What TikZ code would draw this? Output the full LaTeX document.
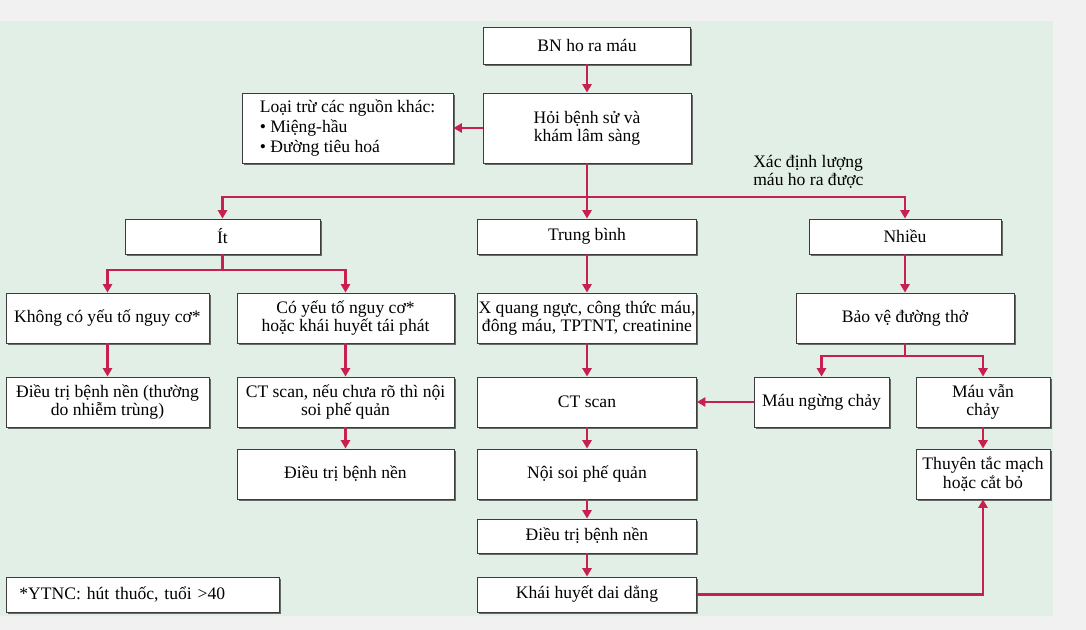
\documentclass[tikz,border=0pt]{standalone}
\usepackage{fontspec}
\setmainfont{Liberation Serif}
\usepackage{xcolor}
\definecolor{hred}{HTML}{C8204E}
\definecolor{hgreen}{HTML}{E2EFE6}
\definecolor{hgray}{HTML}{F1F1F1}
\definecolor{hborder}{HTML}{3C3C3C}
\usepackage{tikz}
\usetikzlibrary{arrows.meta,shadows}
\newcommand{\boxfont}{\fontsize{12.5}{13}\selectfont}

\begin{document}
\begin{tikzpicture}[x=0.025cm,y=-0.025cm,
  box/.style={draw=hborder,fill=white,line width=0.6pt,inner sep=1pt,align=center,font=\boxfont,
    drop shadow={shadow xshift=1.2pt,shadow yshift=-1.2pt,fill=black,opacity=0.55}},
  flow/.style={hred,line width=2pt,-{Triangle[length=6pt,width=6.5pt]}},
  link/.style={hred,line width=2pt}]
% background and margins
\useasboundingbox (0,0) rectangle (1086,630);
\fill[hgray] (0,0) rectangle (1086,630);
\fill[hgreen] (0,21) rectangle (1053,616);
% first steps
\node[box,minimum width=5.175cm,minimum height=0.925cm] (bn) at (587,45.5) {BN ho ra máu};
\node[box,minimum width=5.2cm,minimum height=1.75cm] (hoi) at (587,128) {Hỏi bệnh sử và\\khám lâm sàng};
\node[box,minimum width=5.275cm,minimum height=1.75cm,align=left] (loaitru) at (347.5,128)
  {Loại trừ các nguồn khác:\\[1.5pt]• Miệng-hầu\\[1.5pt]• Đường tiêu hoá};
\node[font=\boxfont,align=left,anchor=west,inner sep=0pt] (qtylabel) at (753,171.5)
  {Xác định lượng\\máu ho ra được};
% amount of blood
\node[box,minimum width=4.875cm,minimum height=0.875cm] (it) at (222.5,236.5) {Ít};
\node[box,minimum width=5.475cm,minimum height=0.875cm] (tb) at (587,236.5) {Trung bình};
\node[box,minimum width=4.8cm,minimum height=0.875cm] (nhieu) at (905,236.5) {Nhiều};
% little
\node[box,minimum width=5.075cm,minimum height=1.25cm] (khong) at (107.5,318) {Không có yếu tố nguy cơ*};
\node[box,minimum width=5.425cm,minimum height=1.25cm] (co) at (345.5,318) {Có yếu tố nguy cơ*\\hoặc khái huyết tái phát};
\node[box,minimum width=5.075cm,minimum height=1.25cm] (dtthuong) at (107.5,402) {Điều trị bệnh nền (thường\\do nhiễm trùng)};
\node[box,minimum width=5.425cm,minimum height=1.25cm] (ctnoisoi) at (345.5,402) {CT scan, nếu chưa rõ thì nội\\soi phế quản};
\node[box,minimum width=5.425cm,minimum height=1.25cm] (dtit) at (345.5,474) {Điều trị bệnh nền};
% medium
\node[box,minimum width=5.475cm,minimum height=1.25cm] (xq) at (587,318) {X quang ngực, công thức máu,\\đông máu, TPTNT, creatinine};
\node[box,minimum width=5.475cm,minimum height=1.25cm] (ct) at (587,402) {CT scan};
\node[box,minimum width=5.475cm,minimum height=1.25cm] (noisoi) at (587,474) {Nội soi phế quản};
\node[box,minimum width=5.475cm,minimum height=0.85cm] (dttb) at (587,536) {Điều trị bệnh nền};
\node[box,minimum width=5.475cm,minimum height=0.875cm] (khai) at (587,594.5) {Khái huyết dai dẳng};
% much
\node[box,minimum width=5.45cm,minimum height=1.25cm] (baove) at (905,318) {Bảo vệ đường thở};
\node[box,minimum width=3.375cm,minimum height=1.25cm] (ngung) at (821.5,402) {Máu ngừng chảy};
\node[box,minimum width=3.35cm,minimum height=1.25cm] (van) at (983,402) {Máu vẫn\\chảy};
\node[box,minimum width=3.35cm,minimum height=1.25cm] (thuyen) at (983,474) {Thuyên tắc mạch\\hoặc cắt bỏ};
% footnote
\node[box,anchor=west,text width=6.175cm,inner xsep=0.325cm,minimum height=0.875cm,align=left] (ytnc) at (6,594.5)
  {*YTNC: hút thuốc, tuổi >40};
% connectors
\coordinate (qty) at (587,197);
\coordinate (itsplit) at (222.5,270);
\coordinate (bvsplit) at (905,356);
\draw[flow] (bn) -- (hoi);
\draw[flow] (hoi) -- (loaitru);
\draw[link] (hoi) -- (qty);
\draw[flow] (qty) -| (it.north);
\draw[flow] (qty) -- (tb);
\draw[flow] (qty) -| (nhieu.north);
\draw[link] (it) -- (itsplit);
\draw[flow] (itsplit) -| (khong.north);
\draw[flow] (itsplit) -| (co.north);
\draw[flow] (khong) -- (dtthuong);
\draw[flow] (co) -- (ctnoisoi);
\draw[flow] (ctnoisoi) -- (dtit);
\foreach \a/\b in {tb/xq,xq/ct,ct/noisoi,noisoi/dttb,dttb/khai}{ \draw[flow] (\a) -- (\b); }
\draw[flow] (nhieu) -- (baove);
\draw[link] (baove) -- (bvsplit);
\draw[flow] (bvsplit) -| (ngung.north);
\draw[flow] (bvsplit) -| (van.north);
\draw[flow] (ngung) -- (ct);
\draw[flow] (van) -- (thuyen);
\draw[flow] (khai) -| (thuyen.south);
\end{tikzpicture}
\end{document}
